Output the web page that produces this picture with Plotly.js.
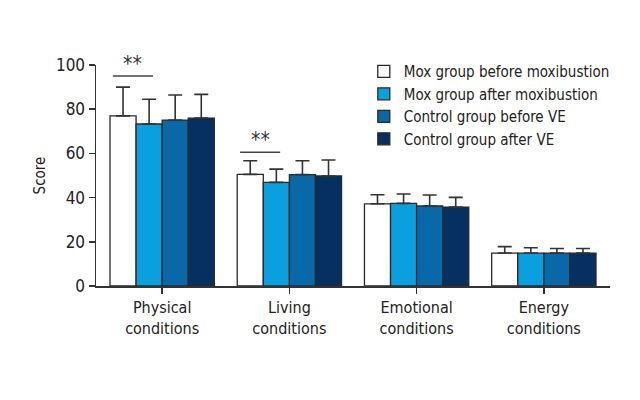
<!DOCTYPE html>
<html>
<head>
<meta charset="utf-8">
<script src="https://cdn.plot.ly/plotly-3.0.1.min.js"></script>
<style>html,body{margin:0;padding:0;background:#fff;}#chart{width:640px;height:400px;}</style>
</head>
<body>
<div id="chart"></div>
<script>
var categories = ["Physical<br>conditions", "Living<br>conditions", "Emotional<br>conditions", "Energy<br>conditions"];
var seriesNames = ["Mox group before moxibustion", "Mox group after moxibustion", "Control group before VE", "Control group after VE"];
var moxBefore = [77.0, 50.5, 37.2, 14.9];
var moxAfter = [73.3, 46.9, 37.4, 14.9];
var ctrlBefore = [75.1, 50.4, 36.2, 14.9];
var ctrlAfter = [76.0, 49.8, 35.7, 14.9];
var moxBeforeErr = [13.0, 6.2, 4.1, 2.9];
var moxAfterErr = [11.2, 6.0, 4.2, 2.4];
var ctrlBeforeErr = [11.3, 6.3, 5.0, 2.1];
var ctrlAfterErr = [10.7, 7.2, 4.4, 2.1];
var sigCategories = [0, 1];
var sigLevels = [95, 60.5];
var yTicks = [0, 20, 40, 60, 80, 100];

var FONT = "'Liberation Sans Narrow', 'DejaVu Sans Condensed', 'Open Sans', sans-serif";
var colors = ["#ffffff", "#0aa0e0", "#0868a8", "#053060"];
var values = [moxBefore, moxAfter, ctrlBefore, ctrlAfter];
var errs = [moxBeforeErr, moxAfterErr, ctrlBeforeErr, ctrlAfterErr];
var xIdx = categories.map(function(_, i){ return i; });

var traces = values.map(function(v, k){
  return {
    type: "bar", name: seriesNames[k], x: xIdx, y: v,
    marker: {color: colors[k], line: {color: "#2a2a2a", width: 1.3}},
    error_y: {type: "data", symmetric: false, array: errs[k], arrayminus: v.map(function(){return 0;}),
              color: "#333", thickness: 1.6, width: 7},
    hoverinfo: "none"
  };
});

var bargap = 0.18;
var barW = (1 - bargap) / 4;
var shapes = [], annotations = [];
sigCategories.forEach(function(c, i){
  var x0 = c - 2 * barW + 0.5 * barW - 0.08;
  var x1 = c - barW + 0.5 * barW + 0.03;
  shapes.push({type: "line", xref: "x", yref: "y", x0: x0, x1: x1, y0: sigLevels[i], y1: sigLevels[i],
               line: {color: "#444", width: 1.5}});
  annotations.push({xref: "x", yref: "y", x: (x0 + x1) / 2, y: sigLevels[i], yanchor: "bottom", yshift: -2,
                    text: "**", showarrow: false, font: {family: FONT, size: 21, color: "#333"}});
});

var layout = {
  width: 640, height: 400,
  margin: {l: 96, r: 30, t: 65, b: 114, autoexpand: false},
  paper_bgcolor: "#fff", plot_bgcolor: "#fff",
  barmode: "group", bargap: bargap, bargroupgap: 0,
  font: {family: FONT, size: 16, color: "#222"},
  showlegend: true,
  legend: {x: 0.521, y: 1.045, xanchor: "left", yanchor: "top", bgcolor: "rgba(0,0,0,0)",
           font: {family: FONT, size: 15, color: "#222"}, tracegroupgap: 0, itemwidth: 30},
  xaxis: {
    range: [-0.52, 3.52], tickmode: "array", tickvals: xIdx, ticktext: categories,
    showline: true, linecolor: "#333", linewidth: 1.5, ticks: "outside", ticklen: 6, tickwidth: 1.5,
    tickcolor: "#333", showgrid: false, zeroline: false, fixedrange: true,
    tickfont: {family: FONT, size: 16, color: "#222"}
  },
  yaxis: {
    range: [0, 100], tickmode: "array", tickvals: yTicks,
    showline: true, linecolor: "#333", linewidth: 1.5, ticks: "outside", ticklen: 6, tickwidth: 1.5,
    tickcolor: "#333", showgrid: false, zeroline: false, fixedrange: true,
    tickfont: {family: FONT, size: 17, color: "#222"},
    title: {text: "Score", font: {family: FONT, size: 15, color: "#222"}, standoff: 6}
  },
  shapes: shapes, annotations: annotations
};

Plotly.newPlot("chart", traces, layout, {displayModeBar: false, staticPlot: true});
</script>
</body>
</html>
